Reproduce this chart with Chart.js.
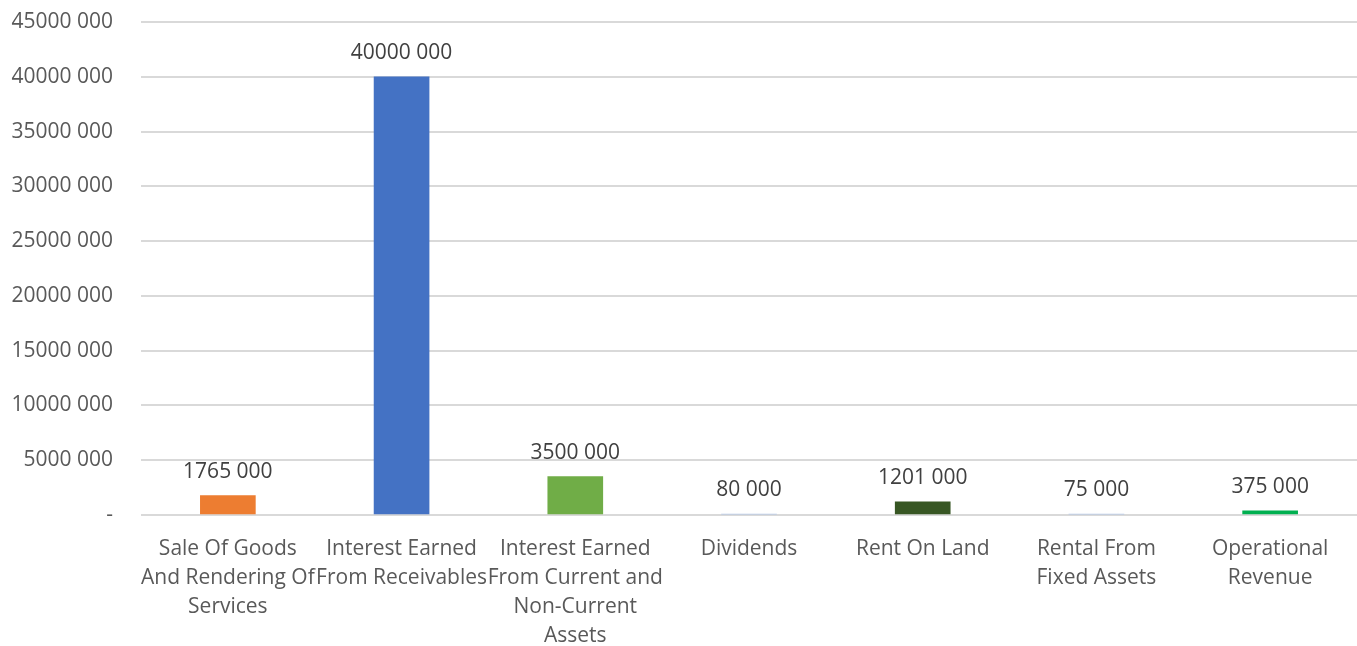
<!DOCTYPE html>
<html>
<head>
<meta charset="utf-8">
<script src="https://cdn.jsdelivr.net/npm/chart.js@4/dist/chart.umd.min.js"></script>
<style>
  html, body { margin: 0; padding: 0; background: #fff; }
  #wrap { width: 1357px; height: 646px; }
</style>
</head>
<body>
<div id="wrap"><canvas id="chartIngresos" width="1357" height="646"></canvas></div>
<script>
// categorias (multilinea como en el original)
const categorias = [
    ['Sale Of Goods', 'And Rendering Of', 'Services'],
    ['Interest Earned', 'From Receivables'],
    ['Interest Earned', 'From Current and', 'Non-Current', 'Assets'],
    'Dividends',
    'Rent On Land',
    ['Rental From', 'Fixed Assets'],
    ['Operational', 'Revenue']
];
const valores = [1765000, 40000000, 3500000, 80000, 1201000, 75000, 375000];
const colores = ['#ED7D31', '#4472C4', '#70AD47', '#B4C7E7', '#375623', '#B4C7E7', '#00B050'];
const ejeMax = 45000000;
const ejePaso = 5000000;

function formatoNumero(v) {
    if (v === 0) return '-';
    const miles = Math.floor(v / 1000);
    const resto = String(v % 1000).padStart(3, '0');
    return miles + ' ' + resto;
}

// etiquetas encima de cada barra
const etiquetasBarras = {
    id: 'etiquetasBarras',
    afterDatasetsDraw(chart) {
        const ctx = chart.ctx;
        const meta = chart.getDatasetMeta(0);
        ctx.save();
        ctx.font = '21px "Open Sans", sans-serif';
        ctx.fillStyle = '#404040';
        ctx.textAlign = 'center';
        ctx.textBaseline = 'middle';
        meta.data.forEach(function(bar, i) {
            ctx.fillText(formatoNumero(valores[i]), bar.x, bar.y - 24);
        });
        ctx.restore();
    }
};

const ctx = document.getElementById('chartIngresos');
new Chart(ctx, {
    type: 'bar',
    data: {
        labels: categorias,
        datasets: [{
            data: valores,
            backgroundColor: colores,
            barThickness: 55
        }]
    },
    options: {
        responsive: false,
        animation: false,
        layout: { padding: 0 },
        scales: {
            x: {
                grid: { display: false },
                border: { display: false },
                ticks: {
                    color: '#595959',
                    font: { family: '"Open Sans", sans-serif', size: 21, lineHeight: 1.38 },
                    maxRotation: 0,
                    autoSkip: false,
                    padding: 12
                },
                afterFit: function(scale) { scale.height = 131; scale.paddingLeft = 0; scale.paddingRight = 0; }
            },
            y: {
                min: 0,
                max: ejeMax,
                border: { display: false },
                grid: { color: '#d9d9d9', lineWidth: 2, drawTicks: false },
                ticks: {
                    stepSize: ejePaso,
                    color: '#595959',
                    font: { family: '"Open Sans", sans-serif', size: 21, lineHeight: 1.0 },
                    padding: 28,
                    callback: function(v) { return formatoNumero(v); }
                },
                afterFit: function(scale) { scale.width = 141; scale.paddingTop = 22; scale.paddingBottom = 0; }
            }
        },
        plugins: {
            legend: { display: false },
            tooltip: { enabled: false }
        }
    },
    plugins: [etiquetasBarras]
});
</script>
</body>
</html>
